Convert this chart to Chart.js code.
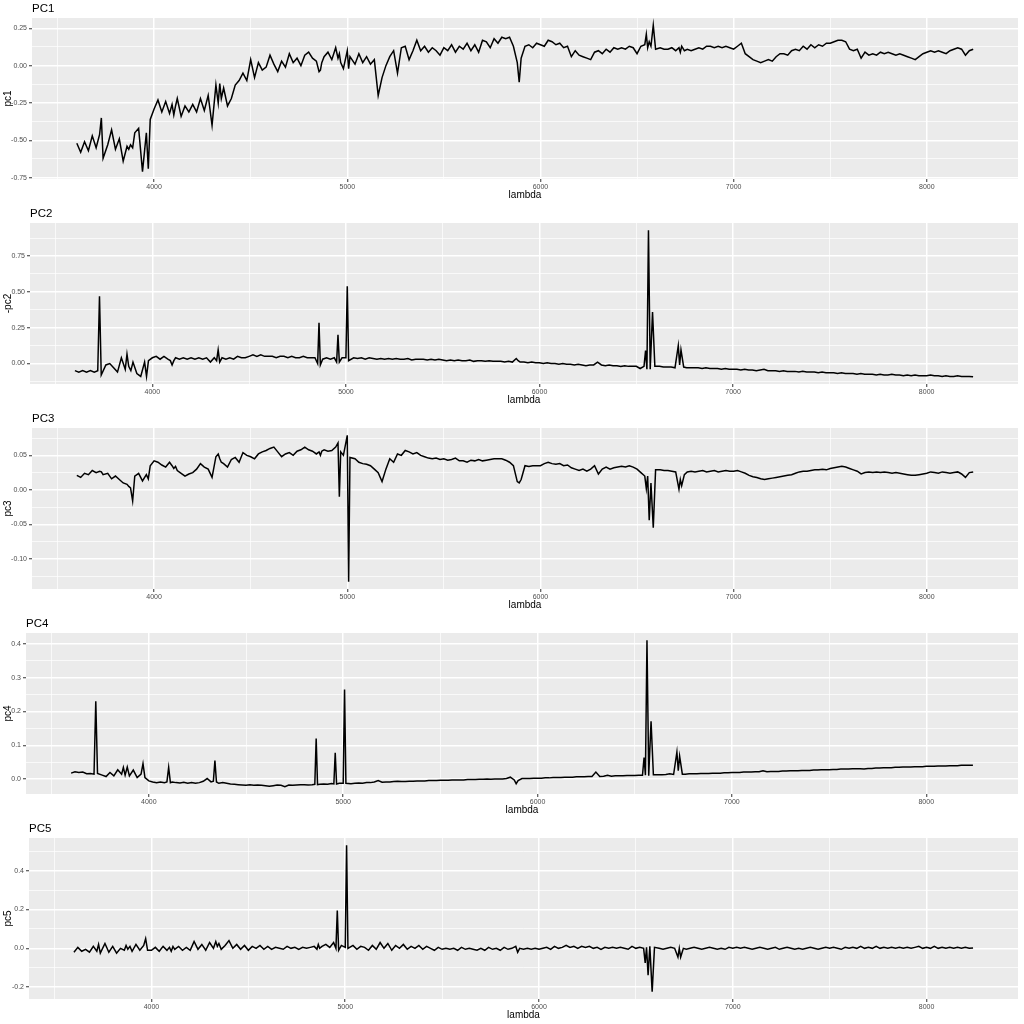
<!DOCTYPE html>
<html>
<head>
<meta charset="utf-8">
<title>PCA spectra</title>
<script src="https://cdn.jsdelivr.net/npm/chart.js@4.4.0/dist/chart.umd.min.js"></script>
<style>
  html, body { margin: 0; padding: 0; background: #fff; }
  .panel { position: absolute; left: 0; width: 1024px; height: 205px; }
</style>
</head>
<body>
<div class="panel" style="top:0px"><canvas id="c1" width="1024" height="205"></canvas></div>
<div class="panel" style="top:205px"><canvas id="c2" width="1024" height="205"></canvas></div>
<div class="panel" style="top:410px"><canvas id="c3" width="1024" height="205"></canvas></div>
<div class="panel" style="top:615px"><canvas id="c4" width="1024" height="205"></canvas></div>
<div class="panel" style="top:820px"><canvas id="c5" width="1024" height="205"></canvas></div>
<script>
// wavelength grid (Angstrom), denser around the emission lines
const lambda = [
  3600,3620,3640,3660,3680,3700,3718,3727,3736,3760,3780,
  3800,3820,3840,3860,3869,3878,3889,3900,3920,3940,3960,3970,3980,
  4000,4020,4040,4060,4080,4093,4102,4111,4120,4140,4160,4180,
  4200,4220,4240,4260,4280,4300,4320,4332,4340,4348,4360,4380,
  4400,4420,4440,4460,4480,4500,4520,4540,4560,4580,
  4600,4620,4640,4660,4680,4700,4720,4740,4760,4780,
  4800,4820,4840,4854,4861,4868,4880,4900,4920,4940,4952,4959,4966,4980,
  5000,5007,5014,5040,5060,5080,5100,5120,5140,5160,5180,
  5200,5220,5240,5260,5280,5300,5320,5340,5360,5380,
  5400,5420,5440,5460,5480,5500,5520,5540,5560,5580,
  5600,5620,5640,5660,5680,5700,5720,5740,5760,5780,
  5800,5820,5840,5860,5880,5890,5900,5920,5940,5960,5980,
  6000,6020,6040,6060,6080,6100,6120,6140,6160,6180,
  6200,6220,6240,6260,6280,6300,6320,6340,6360,6380,
  6400,6420,6440,6460,6480,6500,6520,6540,6548,6555,6563,6572,6584,6596,
  6620,6640,6660,6680,6700,6717,6724,6731,6745,6760,6780,
  6800,6820,6840,6860,6880,6900,6920,6940,6960,6980,
  7000,7020,7040,7060,7080,7100,7120,7140,7160,7180,
  7200,7220,7240,7260,7280,7300,7320,7340,7360,7380,
  7400,7420,7440,7460,7480,7500,7520,7540,7560,7580,
  7600,7620,7640,7660,7680,7700,7720,7740,7760,7780,
  7800,7820,7840,7860,7880,7900,7920,7940,7960,7980,
  8000,8020,8040,8060,8080,8100,8120,8140,8160,8180,
  8200,8220,8240
];

const pc1 = [
  -0.52,-0.58,-0.51,-0.57,-0.47,-0.55,-0.46,-0.35,-0.62,-0.53,-0.43,
  -0.56,-0.49,-0.64,-0.54,-0.56,-0.53,-0.55,-0.45,-0.42,-0.71,-0.45,-0.69,-0.36,
  -0.29,-0.23,-0.31,-0.24,-0.32,-0.26,-0.33,-0.27,-0.22,-0.34,-0.27,-0.31,
  -0.26,-0.31,-0.22,-0.30,-0.20,-0.40,-0.13,-0.25,-0.12,-0.22,-0.15,-0.27,
  -0.22,-0.13,-0.10,-0.05,-0.10,0.04,-0.08,0.02,-0.03,-0.01,
  0.07,0.01,-0.04,0.03,-0.01,0.08,0.02,0.05,0.00,0.07,
  0.09,0.05,0.03,-0.04,-0.03,0.02,0.06,0.09,0.04,0.12,0.05,0.08,0.02,-0.02,
  0.10,-0.02,0.06,0.01,0.08,0.02,0.06,0.01,0.04,-0.20,-0.08,
  0.00,0.06,0.10,-0.05,0.12,0.13,0.04,0.10,0.17,0.10,
  0.13,0.09,0.12,0.10,0.07,0.12,0.10,0.14,0.09,0.13,
  0.11,0.15,0.10,0.14,0.09,0.17,0.16,0.12,0.18,0.15,
  0.19,0.18,0.19,0.13,0.02,-0.11,0.05,0.13,0.14,0.12,0.15,
  0.14,0.13,0.17,0.16,0.14,0.15,0.12,0.13,0.06,0.10,
  0.07,0.06,0.05,0.04,0.09,0.10,0.08,0.11,0.09,0.12,
  0.11,0.12,0.11,0.13,0.12,0.08,0.13,0.14,0.21,0.12,0.16,0.13,0.27,0.11,
  0.12,0.11,0.11,0.12,0.10,0.12,0.09,0.13,0.10,0.11,0.10,
  0.11,0.12,0.11,0.13,0.13,0.12,0.13,0.12,0.13,0.12,
  0.11,0.13,0.15,0.08,0.06,0.04,0.03,0.02,0.03,0.04,
  0.03,0.06,0.08,0.08,0.07,0.10,0.11,0.10,0.13,0.11,
  0.14,0.12,0.14,0.13,0.15,0.15,0.16,0.17,0.17,0.16,
  0.11,0.10,0.11,0.05,0.09,0.07,0.08,0.07,0.09,0.08,
  0.09,0.08,0.07,0.08,0.07,0.06,0.05,0.04,0.06,0.08,
  0.09,0.10,0.09,0.10,0.09,0.08,0.10,0.11,0.12,0.11,
  0.07,0.10,0.11
];

// plotted as -pc2
const pc2 = [
  -0.05,-0.06,-0.05,-0.06,-0.05,-0.06,-0.05,0.47,-0.08,-0.01,0.00,
  -0.03,-0.06,0.04,-0.04,0.065,-0.02,-0.05,0.01,-0.07,-0.09,0.01,-0.09,0.02,
  0.04,0.05,0.03,0.05,0.03,0.02,-0.01,0.02,0.04,0.03,0.04,0.03,
  0.04,0.03,0.04,0.03,0.04,0.01,0.04,0.02,0.095,0.01,0.04,0.03,
  0.04,0.03,0.05,0.04,0.04,0.05,0.06,0.05,0.06,0.05,
  0.05,0.05,0.04,0.05,0.05,0.04,0.05,0.04,0.04,0.05,
  0.04,0.04,0.04,0.00,0.285,-0.01,0.03,0.04,0.03,0.04,0.01,0.20,0.01,0.04,
  0.04,0.54,0.02,0.04,0.035,0.04,0.03,0.04,0.035,0.03,0.035,
  0.03,0.035,0.03,0.035,0.03,0.03,0.035,0.025,0.03,0.03,
  0.03,0.025,0.03,0.025,0.03,0.025,0.02,0.025,0.02,0.025,
  0.02,0.02,0.025,0.015,0.02,0.02,0.015,0.02,0.015,0.015,
  0.015,0.01,0.015,0.01,0.035,0.02,0.01,0.01,0.005,0.01,0.005,
  0.005,0.0,0.005,0.0,0.0,-0.005,0.0,-0.005,-0.005,-0.01,
  -0.005,-0.01,-0.015,-0.01,-0.01,0.01,-0.01,-0.015,-0.01,-0.015,
  -0.015,-0.02,-0.015,-0.02,-0.02,-0.02,-0.035,-0.02,0.09,-0.04,0.93,-0.04,0.36,-0.02,
  -0.02,-0.025,-0.025,-0.025,-0.03,0.125,-0.01,0.095,-0.025,-0.03,-0.03,
  -0.03,-0.03,-0.035,-0.03,-0.035,-0.035,-0.035,-0.04,-0.035,-0.04,
  -0.04,-0.04,-0.045,-0.04,-0.045,-0.045,-0.05,-0.045,-0.04,-0.05,
  -0.05,-0.05,-0.055,-0.05,-0.055,-0.055,-0.055,-0.06,-0.055,-0.06,
  -0.06,-0.06,-0.065,-0.06,-0.065,-0.065,-0.065,-0.07,-0.065,-0.07,
  -0.07,-0.07,-0.075,-0.07,-0.075,-0.075,-0.075,-0.08,-0.075,-0.08,
  -0.08,-0.075,-0.08,-0.08,-0.085,-0.08,-0.085,-0.08,-0.085,-0.085,
  -0.085,-0.08,-0.085,-0.085,-0.09,-0.085,-0.09,-0.09,-0.085,-0.09,
  -0.09,-0.09,-0.092
];

const pc3 = [
  0.021,0.018,0.024,0.022,0.028,0.025,0.027,0.026,0.022,0.024,0.016,
  0.020,0.015,0.010,0.008,0.005,0.003,-0.016,0.020,0.024,0.013,0.022,0.016,0.035,
  0.042,0.040,0.036,0.033,0.040,0.035,0.031,0.034,0.028,0.024,0.020,0.023,
  0.025,0.030,0.038,0.033,0.030,0.018,0.048,0.052,0.045,0.040,0.038,0.033,
  0.044,0.047,0.040,0.054,0.050,0.048,0.045,0.052,0.055,0.057,
  0.060,0.062,0.055,0.048,0.052,0.054,0.050,0.056,0.058,0.062,
  0.058,0.056,0.052,0.055,0.050,0.056,0.058,0.056,0.057,0.062,0.068,-0.010,0.055,0.050,
  0.079,-0.133,0.047,0.045,0.040,0.038,0.037,0.035,0.030,0.025,0.012,
  0.030,0.045,0.040,0.052,0.050,0.057,0.055,0.052,0.054,0.050,
  0.048,0.046,0.045,0.046,0.044,0.045,0.043,0.044,0.046,0.042,
  0.042,0.040,0.043,0.042,0.044,0.042,0.043,0.044,0.045,0.045,
  0.045,0.043,0.040,0.035,0.012,0.010,0.015,0.035,0.034,0.035,0.035,
  0.035,0.038,0.040,0.038,0.037,0.038,0.035,0.036,0.032,0.030,
  0.028,0.030,0.027,0.030,0.035,0.023,0.030,0.033,0.030,0.032,
  0.033,0.034,0.033,0.035,0.033,0.030,0.025,0.020,0.002,0.020,-0.044,0.010,-0.055,0.029,
  0.029,0.028,0.028,0.027,0.026,0.001,0.015,0.006,0.022,0.026,0.027,
  0.026,0.027,0.028,0.026,0.027,0.028,0.026,0.027,0.028,0.027,
  0.027,0.028,0.026,0.024,0.021,0.019,0.018,0.016,0.015,0.016,
  0.017,0.018,0.019,0.020,0.021,0.022,0.024,0.026,0.027,0.027,
  0.028,0.029,0.029,0.030,0.029,0.031,0.032,0.033,0.034,0.033,
  0.031,0.029,0.027,0.023,0.025,0.026,0.025,0.026,0.025,0.026,
  0.025,0.024,0.025,0.024,0.023,0.022,0.021,0.021,0.022,0.023,
  0.024,0.026,0.025,0.024,0.026,0.025,0.024,0.025,0.026,0.023,
  0.018,0.025,0.026
];

const pc4 = [
  0.018,0.022,0.020,0.021,0.016,0.017,0.015,0.230,0.017,0.012,0.008,
  0.020,0.010,0.028,0.015,0.035,0.012,0.036,0.010,0.027,0.005,0.015,0.046,0.005,
  -0.005,-0.008,-0.010,-0.008,-0.010,-0.008,0.035,-0.010,-0.008,-0.010,-0.011,-0.009,
  -0.012,-0.010,-0.012,-0.010,-0.006,0.002,-0.008,-0.006,0.055,-0.008,-0.012,-0.010,
  -0.012,-0.014,-0.015,-0.016,-0.017,-0.018,-0.016,-0.018,-0.017,-0.018,
  -0.019,-0.021,-0.019,-0.017,-0.018,-0.022,-0.017,-0.018,-0.017,-0.016,
  -0.016,-0.017,-0.016,-0.015,0.120,-0.016,-0.015,-0.014,-0.015,-0.013,-0.014,0.078,-0.014,-0.012,
  -0.012,0.265,-0.012,-0.013,-0.012,-0.011,-0.012,-0.010,-0.010,-0.008,-0.004,
  -0.009,-0.008,-0.008,-0.007,-0.006,-0.007,-0.007,-0.006,-0.006,-0.005,
  -0.005,-0.005,-0.004,-0.004,-0.004,-0.003,-0.003,-0.003,-0.002,-0.002,
  -0.002,-0.002,-0.001,-0.001,-0.001,0.000,0.000,0.001,0.000,0.001,
  0.001,0.001,0.002,0.006,-0.002,-0.013,-0.004,0.002,0.002,0.002,0.003,
  0.003,0.003,0.004,0.004,0.005,0.005,0.005,0.006,0.006,0.006,
  0.007,0.007,0.007,0.008,0.008,0.021,0.008,0.009,0.012,0.009,
  0.010,0.010,0.010,0.011,0.011,0.011,0.012,0.012,0.064,0.012,0.410,0.010,0.171,0.013,
  0.013,0.013,0.014,0.016,0.014,0.080,0.025,0.068,0.015,0.015,0.016,
  0.016,0.016,0.017,0.017,0.017,0.018,0.018,0.018,0.019,0.019,
  0.020,0.020,0.020,0.021,0.021,0.021,0.022,0.022,0.025,0.022,
  0.023,0.023,0.023,0.024,0.024,0.025,0.025,0.025,0.026,0.026,
  0.026,0.027,0.027,0.028,0.028,0.028,0.029,0.029,0.030,0.030,
  0.030,0.031,0.031,0.031,0.030,0.032,0.032,0.033,0.033,0.034,
  0.034,0.034,0.035,0.035,0.036,0.036,0.036,0.037,0.037,0.037,
  0.038,0.038,0.038,0.039,0.039,0.039,0.040,0.040,0.040,0.041,
  0.041,0.041,0.041
];

const pc5 = [
  -0.02,0.005,-0.015,-0.005,-0.02,0.01,-0.015,0.02,-0.025,0.025,-0.02,
  0.01,-0.025,0.0,-0.01,0.015,-0.005,0.01,-0.015,0.02,-0.01,0.015,0.05,-0.01,
  -0.01,0.005,-0.015,0.01,-0.01,0.005,-0.015,0.01,-0.005,0.01,-0.01,0.005,
  -0.01,0.035,-0.005,0.02,-0.01,0.03,0.0,0.035,0.01,0.025,-0.005,0.015,
  0.04,0.0,0.02,-0.005,0.015,-0.01,0.01,0.0,0.015,-0.005,
  0.01,-0.005,0.005,0.0,-0.005,0.01,0.0,0.005,-0.005,0.005,
  0.0,0.005,0.01,-0.005,0.02,0.0,0.01,0.02,0.005,0.03,0.0,0.195,-0.01,0.015,
  0.005,0.53,0.0,0.015,-0.005,0.01,0.005,-0.01,0.015,-0.005,0.03,
  0.0,0.025,-0.01,0.015,0.0,0.02,-0.005,0.01,0.0,0.015,
  -0.005,0.01,0.0,-0.01,0.005,-0.005,0.0,-0.005,0.0,-0.01,
  0.005,-0.005,0.0,-0.005,-0.01,0.0,-0.01,0.005,-0.005,0.0,
  -0.01,0.005,-0.005,0.0,0.01,-0.02,0.0,-0.005,0.0,-0.005,0.0,
  -0.005,0.0,0.005,-0.005,0.01,0.0,0.005,0.015,0.005,0.01,
  0.0,0.01,0.005,0.01,0.0,0.005,-0.005,0.005,0.0,0.005,
  0.0,0.005,0.0,-0.005,0.01,0.0,0.005,0.0,-0.075,0.005,-0.138,0.01,-0.223,0.005,
  0.0,-0.005,0.0,0.005,0.0,-0.045,0.0,-0.045,0.0,-0.005,0.0,
  0.005,0.0,-0.005,0.0,0.005,0.0,-0.005,0.0,-0.005,0.005,
  0.0,0.005,0.0,0.005,0.0,-0.005,0.0,0.005,0.0,-0.005,
  0.0,0.005,-0.005,0.0,0.005,0.0,-0.005,0.0,-0.005,0.0,
  0.005,0.0,-0.005,0.0,0.005,0.0,0.005,0.0,-0.005,0.005,
  0.0,0.005,0.0,0.01,0.0,0.005,0.0,0.01,0.0,0.005,
  0.0,0.005,0.0,0.005,0.0,0.005,0.0,0.005,0.01,0.0,
  0.005,0.0,0.01,0.0,0.005,0.0,0.005,0.0,0.005,0.0,
  0.005,0.0,0.002
];

// tick positions (major = labelled, minor = grid only)
const xMajor = [4000, 5000, 6000, 7000, 8000];
const xMinor = [3500, 4500, 5500, 6500, 7500];
const pc1Major = [-0.75, -0.5, -0.25, 0, 0.25];
const pc1Minor = [-0.625, -0.375, -0.125, 0.125];
const pc2Major = [0, 0.25, 0.5, 0.75];
const pc2Minor = [-0.125, 0.125, 0.375, 0.625, 0.875];
const pc3Major = [-0.1, -0.05, 0, 0.05];
const pc3Minor = [-0.125, -0.075, -0.025, 0.025, 0.075];
const pc4Major = [0, 0.1, 0.2, 0.3, 0.4];
const pc4Minor = [0.05, 0.15, 0.25, 0.35];
const pc5Major = [-0.2, 0, 0.2, 0.4];
const pc5Minor = [-0.1, 0.1, 0.3, 0.5];

const FONT = '"Liberation Sans", Arial, Helvetica, sans-serif';
Chart.defaults.font.family = FONT;

const panels = [
  { id: 'c1', title: 'PC1', ylab: 'pc1',  vals: pc1, major: pc1Major, minor: pc1Minor, digits: 2, axisW: 32 },
  { id: 'c2', title: 'PC2', ylab: '-pc2', vals: pc2, major: pc2Major, minor: pc2Minor, digits: 2, axisW: 30 },
  { id: 'c3', title: 'PC3', ylab: 'pc3',  vals: pc3, major: pc3Major, minor: pc3Minor, digits: 2, axisW: 32 },
  { id: 'c4', title: 'PC4', ylab: 'pc4',  vals: pc4, major: pc4Major, minor: pc4Minor, digits: 1, axisW: 26 },
  { id: 'c5', title: 'PC5', ylab: 'pc5',  vals: pc5, major: pc5Major, minor: pc5Minor, digits: 1, axisW: 29 }
];

// ggplot style expansion of 5% on each side
function expand(arr) {
  const lo = Math.min(...arr), hi = Math.max(...arr);
  const d = (hi - lo) * 0.05;
  return [lo - d, hi + d];
}

const isIn = (list, v) => list.some(m => Math.abs(m - v) < 1e-9);

// grey panel + plot title
const ggPanel = {
  id: 'ggPanel',
  beforeDraw(chart) {
    const { ctx, chartArea: a } = chart;
    ctx.save();
    ctx.fillStyle = '#EBEBEB';
    ctx.fillRect(a.left, a.top, a.right - a.left, a.bottom - a.top);
    ctx.restore();
  },
  afterDraw(chart, args, opts) {
    const { ctx, chartArea: a } = chart;
    ctx.save();
    ctx.fillStyle = '#000';
    ctx.font = '11.5px ' + FONT;
    ctx.textBaseline = 'middle';
    ctx.textAlign = 'left';
    ctx.fillText(opts.text, a.left, 9);
    ctx.restore();
  }
};

const xRange = expand(lambda);

panels.forEach(p => {
  const yRange = expand(p.vals);

  new Chart(document.getElementById(p.id), {
    type: 'line',
    data: {
      datasets: [{
        data: lambda.map((x, i) => ({ x: x, y: p.vals[i] })),
        borderColor: '#000000',
        borderWidth: 1.5,
        pointRadius: 0,
        fill: false,
        tension: 0
      }]
    },
    options: {
      responsive: false,
      animation: false,
      devicePixelRatio: 1,
      events: [],
      layout: { padding: { top: 18, right: 6, left: 0, bottom: 0 } },
      plugins: {
        legend: { display: false },
        tooltip: { enabled: false },
        ggPanel: { text: p.title }
      },
      scales: {
        x: {
          type: 'linear',
          min: xRange[0],
          max: xRange[1],
          afterBuildTicks: s => {
            s.ticks = xMinor.concat(xMajor).sort((a, b) => a - b).map(v => ({ value: v }));
          },
          afterFit: s => { s.height = 26; },
          ticks: {
            autoSkip: false,
            maxRotation: 0,
            padding: 1,
            color: '#4D4D4D',
            font: { size: 7 },
            callback: v => isIn(xMajor, v) ? String(v) : ''
          },
          grid: {
            color: '#FFFFFF',
            lineWidth: c => (c.tick && isIn(xMajor, c.tick.value)) ? 1.5 : 0.7,
            tickLength: 3,
            tickWidth: 1,
            tickColor: c => (c.tick && isIn(xMajor, c.tick.value)) ? '#333333' : 'rgba(0,0,0,0)'
          },
          border: { display: false },
          title: {
            display: true,
            text: 'lambda',
            color: '#000',
            font: { size: 10 },
            padding: { top: 0, bottom: 4 }
          }
        },
        y: {
          type: 'linear',
          min: yRange[0],
          max: yRange[1],
          afterBuildTicks: s => {
            s.ticks = p.minor.concat(p.major).sort((a, b) => a - b).map(v => ({ value: v }));
          },
          afterFit: s => { s.width = p.axisW; },
          ticks: {
            autoSkip: false,
            padding: 2,
            color: '#4D4D4D',
            font: { size: 7 },
            callback: v => isIn(p.major, v) ? v.toFixed(p.digits) : ''
          },
          grid: {
            color: '#FFFFFF',
            lineWidth: c => (c.tick && isIn(p.major, c.tick.value)) ? 1.5 : 0.7,
            tickLength: 3,
            tickWidth: 1,
            tickColor: c => (c.tick && isIn(p.major, c.tick.value)) ? '#333333' : 'rgba(0,0,0,0)'
          },
          border: { display: false },
          title: {
            display: true,
            text: p.ylab,
            color: '#000',
            font: { size: 10 },
            padding: { top: 2, bottom: 0 }
          }
        }
      }
    },
    plugins: [ggPanel]
  });
});
</script>
</body>
</html>
